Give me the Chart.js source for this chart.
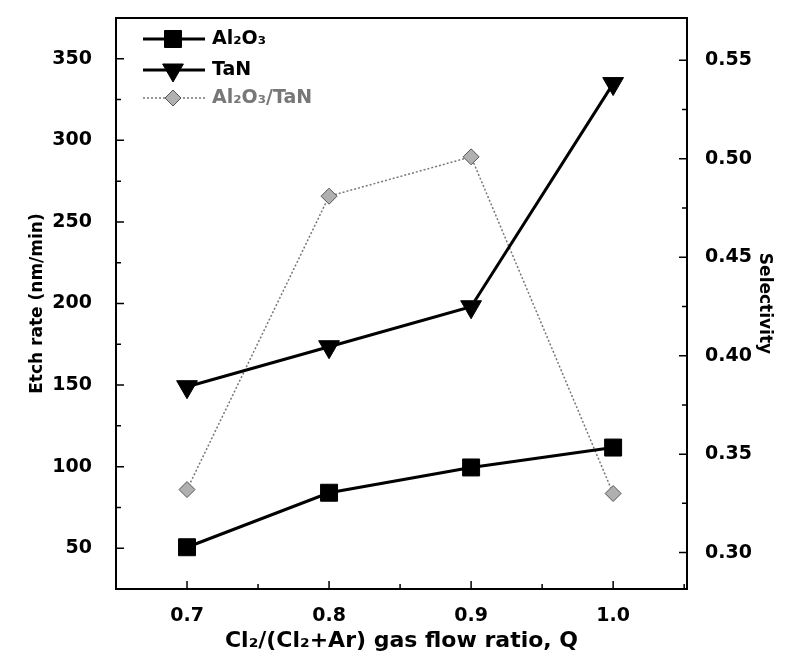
<!DOCTYPE html>
<html>
<head>
<meta charset="utf-8">
<script src="https://cdn.jsdelivr.net/npm/chart.js@4.4.0/dist/chart.umd.min.js"></script>
<style>
  html, body { margin: 0; padding: 0; background: #fff; }
  #wrap { width: 801px; height: 665px; }
</style>
</head>
<body>
<div id="wrap"><canvas id="chart"></canvas></div>
<script>
const gasRatio = [0.7, 0.8, 0.9, 1.0];
const al2o3Rate = [50.6, 84, 99.5, 111.7];
const tanRate = [149, 173.5, 198, 334.8];
const selectivity = [0.332, 0.481, 0.501, 0.330];

const xTicks = [0.7, 0.8, 0.9, 1.0];
const rateTicks = [50, 100, 150, 200, 250, 300, 350];
const selTicks = [0.30, 0.35, 0.40, 0.45, 0.50, 0.55];

const FONT = "'DejaVu Sans', sans-serif";
const toPoints = ys => gasRatio.map((x, i) => ({ x, y: ys[i] }));

// fixed box sizes so the plot area lands where the reference has it
const fixWidth = w => s => { s.width = w; s.paddingTop = 0; s.paddingBottom = 0; };

// box round the plot and inward major/minor ticks
const framePlugin = {
  id: "frame",
  afterDraw(chart) {
    const { ctx, chartArea: a, scales } = chart;
    ctx.save();
    ctx.strokeStyle = "#000";
    ctx.lineWidth = 2;
    ctx.strokeRect(a.left, a.top, a.right - a.left, a.bottom - a.top);

    const marks = (scale, vals) => {
      const out = [];
      const step = vals[1] - vals[0];
      vals.forEach((v, i) => {
        out.push([v, 8]);
        if (i < vals.length - 1) out.push([(v + vals[i + 1]) / 2, 5]);
      });
      out.push([vals[0] - step / 2, 5], [vals[vals.length - 1] + step / 2, 5]);
      return out.filter(([v]) => v > scale.min && v < scale.max);
    };

    ctx.lineWidth = 1.5;
    ctx.beginPath();
    marks(scales.x, xTicks).forEach(([v, len]) => {
      const px = scales.x.getPixelForValue(v);
      ctx.moveTo(px, a.bottom);
      ctx.lineTo(px, a.bottom - len);
    });
    marks(scales.y, rateTicks).forEach(([v, len]) => {
      const py = scales.y.getPixelForValue(v);
      ctx.moveTo(a.left, py);
      ctx.lineTo(a.left + len, py);
    });
    marks(scales.y1, selTicks).forEach(([v, len]) => {
      const py = scales.y1.getPixelForValue(v);
      ctx.moveTo(a.right, py);
      ctx.lineTo(a.right - len, py);
    });
    ctx.stroke();
    ctx.restore();
  }
};

// legend sits inside the plot, top left
const insideLegend = {
  id: "insideLegend",
  afterDraw(chart) {
    const { ctx, chartArea: a } = chart;
    const rows = [21, 52, 80];
    ctx.save();
    chart.data.datasets.forEach((ds, i) => {
      const y = a.top + rows[i];
      ctx.strokeStyle = ds.borderColor;
      ctx.lineWidth = ds.borderWidth;
      ctx.setLineDash(ds.borderDash || []);
      ctx.beginPath();
      ctx.moveTo(a.left + 27, y);
      ctx.lineTo(a.left + 89, y);
      ctx.stroke();
      ctx.setLineDash([]);
      ctx.fillStyle = ds.pointBackgroundColor;
      ctx.strokeStyle = ds.pointBorderColor;
      ctx.lineWidth = ds.pointBorderWidth;
      Chart.helpers.drawPoint(ctx, {
        pointStyle: ds.pointStyle,
        rotation: ds.pointRotation || 0,
        radius: ds.pointRadius,
        borderWidth: ds.pointBorderWidth
      }, a.left + 57, y);
      ctx.fillStyle = ds.legendColor;
      ctx.font = "bold 19px " + FONT;
      ctx.textBaseline = "middle";
      ctx.fillText(ds.label, a.left + 96, y);
    });
    ctx.restore();
  }
};

new Chart(document.getElementById("chart"), {
  type: "line",
  data: {
    datasets: [
      {
        label: "Al\u2082O\u2083",
        data: toPoints(al2o3Rate),
        yAxisID: "y",
        borderColor: "#000",
        borderWidth: 3,
        pointStyle: "rect",
        pointRadius: 12,
        pointBackgroundColor: "#000",
        pointBorderColor: "#000",
        pointBorderWidth: 1,
        legendColor: "#000"
      },
      {
        label: "TaN",
        data: toPoints(tanRate),
        yAxisID: "y",
        borderColor: "#000",
        borderWidth: 3,
        pointStyle: "triangle",
        pointRotation: 180,
        pointRadius: 12,
        pointBackgroundColor: "#000",
        pointBorderColor: "#000",
        pointBorderWidth: 1,
        legendColor: "#000"
      },
      {
        label: "Al\u2082O\u2083/TaN",
        data: toPoints(selectivity),
        yAxisID: "y1",
        borderColor: "#777",
        borderWidth: 1.5,
        borderDash: [2, 2],
        pointStyle: "rectRot",
        pointRadius: 8,
        pointBackgroundColor: "#b0b0b0",
        pointBorderColor: "#555",
        pointBorderWidth: 1,
        legendColor: "#777"
      }
    ]
  },
  options: {
    responsive: true,
    maintainAspectRatio: false,
    animation: false,
    layout: { padding: { top: 18, left: 0, right: 0, bottom: 0 } },
    plugins: { legend: { display: false }, tooltip: { enabled: false } },
    scales: {
      x: {
        type: "linear",
        min: 0.65,
        max: 1.052,
        grid: { display: false },
        border: { display: false },
        afterBuildTicks: s => { s.ticks = xTicks.map(v => ({ value: v })); },
        afterFit: s => { s.height = 76; },
        ticks: {
          color: "#000",
          padding: 8,
          font: { family: FONT, size: 19, weight: "bold" },
          callback: v => v.toFixed(1)
        },
        title: {
          display: true,
          text: "Cl\u2082/(Cl\u2082+Ar) gas flow ratio, Q",
          color: "#000",
          font: { family: FONT, size: 22, weight: "bold" },
          padding: { bottom: 11 }
        }
      },
      y: {
        position: "left",
        min: 25,
        max: 375,
        grid: { display: false },
        border: { display: false },
        afterBuildTicks: s => { s.ticks = rateTicks.map(v => ({ value: v })); },
        afterFit: fixWidth(116),
        ticks: {
          color: "#000",
          padding: 16,
          font: { family: FONT, size: 19, weight: "bold" }
        },
        title: {
          display: true,
          text: "Etch rate (nm/min)",
          color: "#000",
          font: { family: FONT, size: 17, weight: "bold" },
          padding: { top: 27 }
        }
      },
      y1: {
        position: "right",
        min: 0.2815,
        max: 0.5715,
        grid: { display: false },
        border: { display: false },
        afterBuildTicks: s => { s.ticks = selTicks.map(v => ({ value: v })); },
        afterFit: fixWidth(114),
        ticks: {
          color: "#000",
          padding: 10,
          font: { family: FONT, size: 19, weight: "bold" },
          callback: v => v.toFixed(2)
        },
        title: {
          display: true,
          text: "Selectivity",
          color: "#000",
          font: { family: FONT, size: 17, weight: "bold" },
          padding: { top: 26 }
        }
      }
    }
  },
  plugins: [framePlugin, insideLegend]
});
</script>
</body>
</html>
